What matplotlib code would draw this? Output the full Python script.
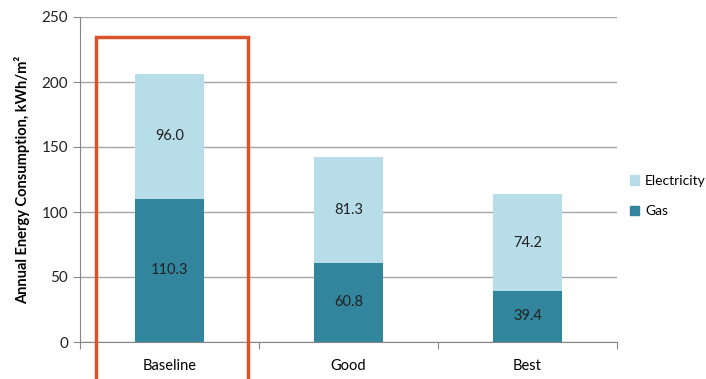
import numpy as np
import matplotlib.pyplot as plt
from matplotlib.patches import Rectangle, Patch

# data
categories = ["Baseline", "Good", "Best"]
gas = [110.3, 60.8, 39.4]
electricity = [96.0, 81.3, 74.2]

gas_color = "#31859C"
elec_color = "#B7DDE8"

plt.rcParams['font.family'] = ['Lato', 'DejaVu Sans']

fig = plt.figure(figsize=(7.06, 3.79), dpi=100)
ax = fig.add_axes([80 / 706, 1 - 342 / 379, 537 / 706, 325 / 379])

x = np.arange(len(categories))
w = 0.39
ax.bar(x, gas, w, color=gas_color, label="Gas", zorder=3)
ax.bar(x, electricity, w, bottom=gas, color=elec_color, label="Electricity", zorder=3)

# value labels in the middle of each segment
for i in range(len(categories)):
    ax.text(x[i], gas[i] / 2, f"{gas[i]:.1f}", ha='center', va='center',
            fontsize=10.5, color='#222222', zorder=4)
    ax.text(x[i], gas[i] + electricity[i] / 2, f"{electricity[i]:.1f}",
            ha='center', va='center', fontsize=10.5, color='#222222', zorder=4)

ax.set_xlim(-0.5, len(categories) - 0.5)
ax.set_ylim(0, 250)
ax.set_yticks(np.arange(0, 251, 50))
ax.yaxis.grid(True, color='#A6A6A6', linewidth=1)
ax.set_axisbelow(True)

# category labels between boundary ticks, like excel
ax.set_xticks(np.arange(-0.5, len(categories), 1.0))
ax.set_xticklabels([])
ax.set_xticks(x, minor=True)
ax.set_xticklabels(categories, minor=True)
ax.tick_params(axis='x', which='minor', length=0, pad=12, labelsize=10.5)
ax.tick_params(axis='x', which='major', length=5, color='#868686')
ax.tick_params(axis='y', length=5, color='#868686', labelsize=11, labelcolor='#222222')

for s in ['top', 'right']:
    ax.spines[s].set_visible(False)
for s in ['left', 'bottom']:
    ax.spines[s].set_color('#868686')

ax.set_ylabel("Annual Energy Consumption, kWh/m²", fontsize=10.5,
              fontweight='bold', labelpad=8)

# highlight box around baseline
box = Rectangle((-0.413, -60), 0.852, 234.8 + 60, fill=False,
                edgecolor='#D9532B', linewidth=2.5, clip_on=False, zorder=5)
ax.add_patch(box)

handles = [Patch(color=elec_color, label="Electricity"),
           Patch(color=gas_color, label="Gas")]
fig.legend(handles=handles, loc='center left', bbox_to_anchor=(620 / 706, 1 - 196 / 379),
           frameon=False, fontsize=10, handlelength=0.7, handleheight=0.7,
           handletextpad=0.4, labelspacing=1.35, borderpad=0.2)

fig.savefig("out.png", dpi=100)
